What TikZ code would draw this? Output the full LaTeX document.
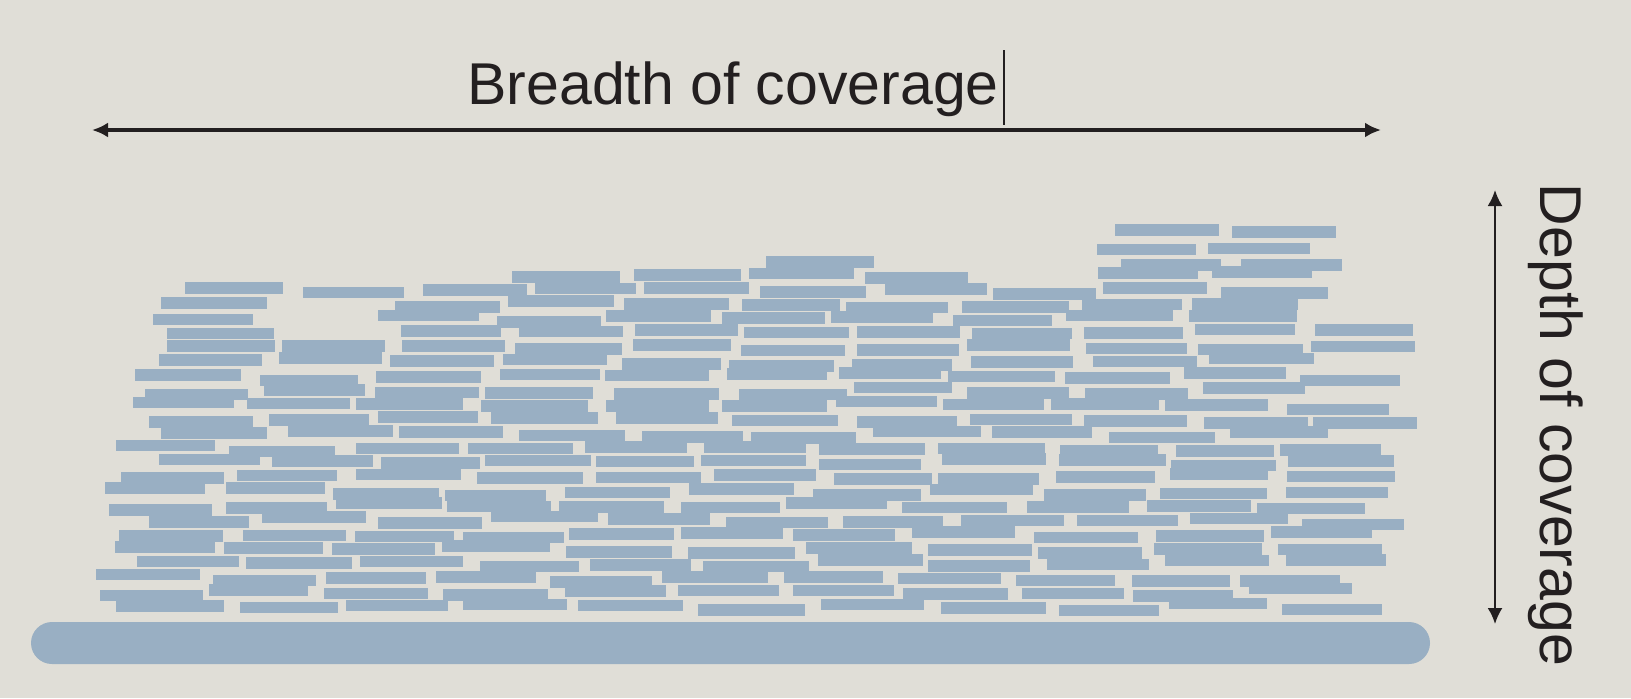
\documentclass[tikz,border=0pt]{standalone}
\usepackage{xcolor}
\usepackage{fontspec}
\setmainfont{Liberation Sans}
\usepackage{tikz}
\usetikzlibrary{arrows.meta}

\definecolor{paper}{RGB}{224,222,215}
\definecolor{readblue}{RGB}{153,175,195}
\definecolor{ink}{RGB}{35,31,32}

\tikzset{
  readbar/.style={fill=readblue},
  span arrow/.style={draw=ink, line width=1.6pt,
    {Latex[length=8pt,width=7.5pt]}-{Latex[length=8pt,width=7.5pt]}},
  label text/.style={text=ink, inner sep=0pt, font=\fontsize{29.5}{34}\selectfont},
  declare function={toprow(\x)=(\x<305)?280:((\x<350)?340:((\x<470)?290:((\x<755)?275:((\x<870)?262:((\x<1140)?277:((\x<1300)?228:((\x<1360)?272:312)))))));}
}

\begin{document}
\begin{tikzpicture}[x=0.5pt,y=-0.5pt]
\useasboundingbox (0,0) rectangle (1631,698);
\fill[paper] (0,0) rectangle (1631,698);

% reference
\fill[readblue, rounded corners=10.5pt] (31,622) rectangle (1430,664);

% reads piled on the reference
\pgfmathsetseed{11}
\foreach \r in {0,...,26}{
  \pgfmathsetmacro\ry{607-14.4*\r}
  \pgfmathsetmacro\xs{80+2.5*\r+55*rnd}
  \xdef\cx{\xs}
  \foreach \k in {1,...,15}{
    \pgfmathsetmacro\w{98+10*rnd}
    \pgfmathsetmacro\jy{\ry+8*rnd-4}
    \pgfmathsetmacro\xe{\cx+\w}
    \pgfmathsetmacro\mx{\cx+\w/2}
    \pgfmathtruncatemacro\ok{and(\xe<1417,\jy>toprow(\mx))}
    \ifnum\ok=1
      \fill[readbar] (\cx,\jy-5.8) rectangle (\xe,\jy+5.8);
    \fi
    \pgfmathsetmacro\nx{\xe+5+16*rnd}
    \xdef\cx{\nx}
  }
}

% breadth
\coordinate (bl) at (92,130);
\coordinate (br) at (1381,130);
\draw[span arrow] (bl) -- (br);
\node[label text, anchor=base west] (breadth) at (467,104) {Breadth of coverage};
\coordinate (cur top) at (1004,50);
\coordinate (cur bot) at (1004,125);
\draw[ink, line width=0.6pt] (cur top) -- (cur bot);

% depth
\coordinate (dt) at (1495,190);
\coordinate (db) at (1495,624);
\draw[span arrow, line width=1.1pt] (dt) -- (db);
\node[label text, anchor=base, rotate=-90] (depth) at (1540,425) {Depth of coverage};
\end{tikzpicture}
\end{document}
